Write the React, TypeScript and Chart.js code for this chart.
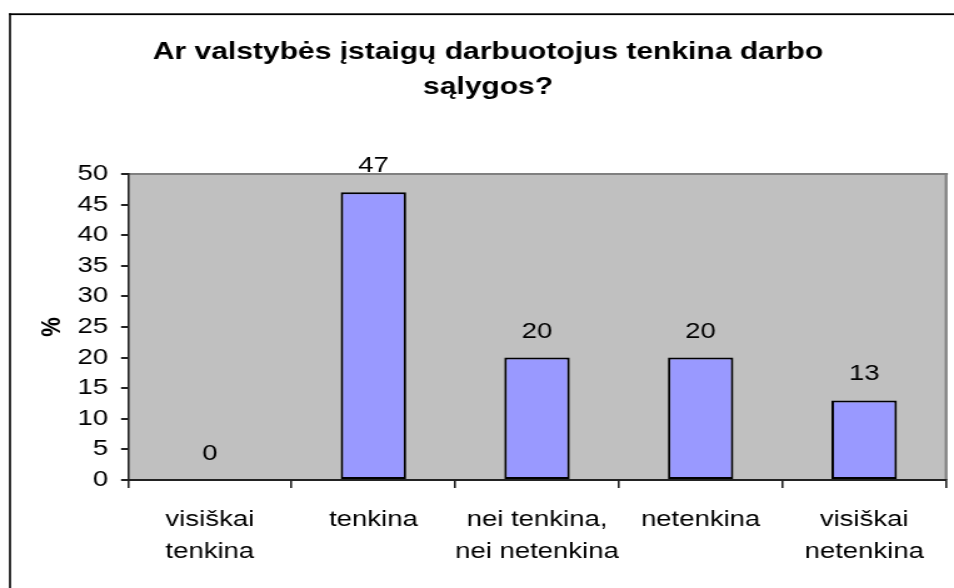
import React, { useEffect, useRef } from 'react';
import { Chart, registerables } from 'chart.js';

Chart.register(...registerables);

// ---- data ----
const categories: (string | string[])[] = [
  ['visiškai', 'tenkina'],
  'tenkina',
  ['nei tenkina,', 'nei netenkina'],
  'netenkina',
  ['visiškai', 'netenkina'],
];
const values: number[] = [0, 47, 20, 20, 13];
const titleLines: string[] = ['Ar valstybės įstaigų darbuotojus tenkina darbo', 'sąlygos?'];
const yAxisTitle = '%';
const yMin = 0;
const yMax = 50;
const yStep = 5;

// ---- layout (internal canvas is stretched horizontally to fill the page) ----
const W = 763;
const H = 588;
const FONT = '"Liberation Sans", Arial, Helvetica, sans-serif';

const backgroundPlugin = {
  id: 'plotBackground',
  beforeDraw(chart: any) {
    const { ctx, chartArea } = chart;
    const { left, top, right, bottom } = chartArea;
    ctx.save();
    ctx.fillStyle = '#ffffff';
    ctx.fillRect(0, 0, chart.width, chart.height);
    // outer frame (left + top edges visible)
    ctx.fillStyle = '#000000';
    ctx.fillRect(7.2, 13.3, chart.width, 1.8);
    ctx.fillRect(7.2, 13.3, 1.6, chart.height);
    // plot area
    ctx.fillStyle = '#C0C0C0';
    ctx.fillRect(left, top, right - left, bottom - top);
    ctx.fillStyle = '#808080';
    ctx.fillRect(left, top - 1, right - left + 1.5, 2);
    ctx.fillRect(right - 1, top - 1, 2.2, bottom - top + 1);
    ctx.restore();
  },
};

const valueLabelPlugin = {
  id: 'valueLabels',
  afterDatasetsDraw(chart: any) {
    const { ctx } = chart;
    const meta = chart.getDatasetMeta(0);
    ctx.save();
    ctx.fillStyle = '#000000';
    ctx.font = `22px ${FONT}`;
    ctx.textAlign = 'center';
    ctx.textBaseline = 'alphabetic';
    meta.data.forEach((bar: any, i: number) => {
      ctx.fillText(String(values[i]), bar.x, bar.y - 20);
    });
    ctx.restore();
  },
};

export default function App() {
  const ref = useRef<HTMLCanvasElement | null>(null);

  useEffect(() => {
    if (!ref.current) return;
    const chart = new Chart(ref.current, {
      type: 'bar',
      data: {
        labels: categories,
        datasets: [
          {
            data: values,
            backgroundColor: '#9999FF',
            borderColor: '#000000',
            borderWidth: 2,
            borderSkipped: false,
            categoryPercentage: 1,
            barPercentage: 0.4,
          },
        ],
      },
      options: {
        responsive: false,
        maintainAspectRatio: false,
        devicePixelRatio: 1,
        animation: false,
        layout: { padding: { left: 24, right: 6.4, top: 0, bottom: 0 } },
        font: { family: FONT },
        plugins: {
          legend: { display: false },
          tooltip: { enabled: false },
          title: {
            display: true,
            text: titleLines,
            color: '#000000',
            font: { family: FONT, size: 24, weight: 'bold', lineHeight: 1.45 },
            padding: { top: 35, bottom: 69.4 },
          },
        },
        scales: {
          x: {
            type: 'category',
            offset: true,
            grid: {
              offset: true,
              drawOnChartArea: false,
              drawTicks: true,
              tickLength: 8,
              color: '#222222',
              lineWidth: 1.6,
            },
            border: { display: true, color: '#222222', width: 2 },
            ticks: {
              color: '#000000',
              font: { family: FONT, size: 22, lineHeight: 1.45 },
              padding: 16,
              maxRotation: 0,
              minRotation: 0,
              autoSkip: false,
            },
            afterFit(scale: any) {
              scale.height = 108;
            },
          },
          y: {
            min: yMin,
            max: yMax,
            grid: {
              drawOnChartArea: false,
              drawTicks: true,
              tickLength: 5.6,
              color: '#222222',
              lineWidth: 2,
            },
            border: { display: true, color: '#222222', width: 1.6 },
            ticks: {
              stepSize: yStep,
              color: '#000000',
              font: { family: FONT, size: 22 },
              padding: 10.4,
            },
            title: {
              display: true,
              text: yAxisTitle,
              color: '#000000',
              font: { family: FONT, size: 22, weight: 'bold' },
              padding: { top: 4.4, bottom: 0 },
            },
            afterFit(scale: any) {
              scale.width = 78.4;
            },
          },
        },
      },
      plugins: [backgroundPlugin, valueLabelPlugin],
    } as any);
    return () => chart.destroy();
  }, []);

  return (
    <div style={{ position: 'fixed', left: 0, top: 0, width: 954, height: 588, overflow: 'hidden', background: '#fff' }}>
      <canvas
        ref={ref}
        width={W}
        height={H}
        style={{ display: 'block', width: '954px', height: '588px' }}
      />
    </div>
  );
}
